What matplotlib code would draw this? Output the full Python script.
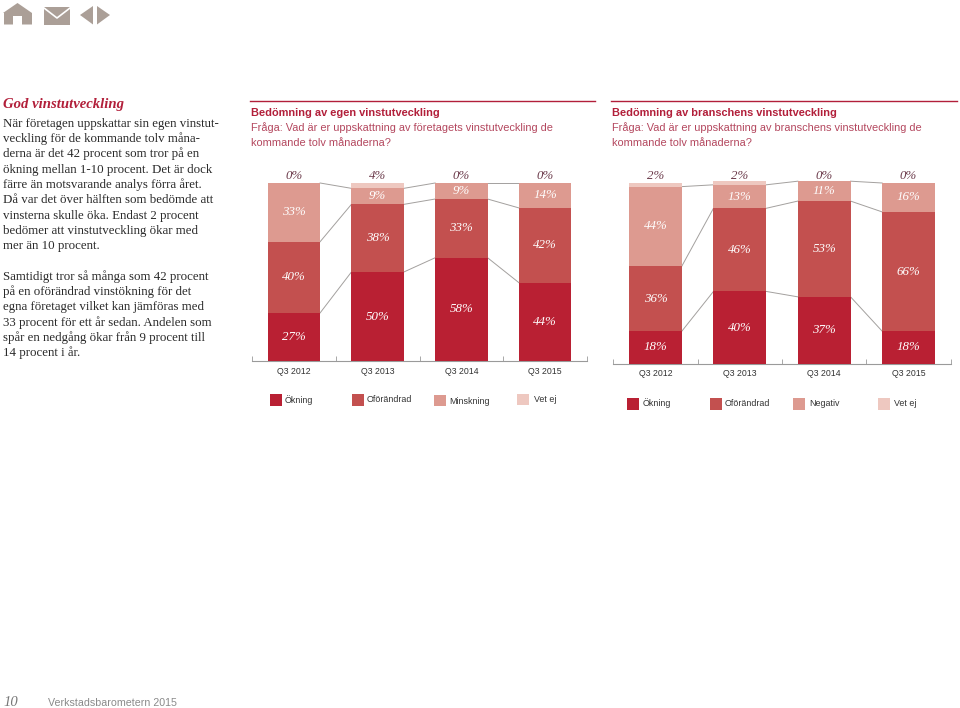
import matplotlib
matplotlib.use('Agg')
import matplotlib.pyplot as plt
from matplotlib.patches import Polygon, Rectangle
import numpy as np

W, H = 960, 708

quarters = ['Q3 2012', 'Q3 2013', 'Q3 2014', 'Q3 2015']

# vänster diagram, egen vinstutveckling
own_okning = [27, 50, 58, 44]
own_oforandrad = [40, 38, 33, 42]
own_minskning = [33, 9, 9, 14]
own_vet_ej = [0, 3, 0, 0]
own_vet_ej_labels = ['0%', '4%', '0%', '0%']

# höger diagram, branschens vinstutveckling
ind_okning = [18, 40, 37, 18]
ind_oforandrad = [36, 46, 53, 66]
ind_negativ = [44, 13, 11, 16]
ind_vet_ej = [2, 2, 0, 0]
ind_vet_ej_labels = ['2%', '2%', '0%', '0%']

own_legend = ['Ökning', 'Oförändrad', 'Minskning', 'Vet ej']
ind_legend = ['Ökning', 'Oförändrad', 'Negativ', 'Vet ej']

colors = ['#b92033', '#c3504f', '#dd9a90', '#eec8c0']
RED = '#b21f3a'
SUB = '#b4485f'
TAUPE = '#ab9f97'
SERIF = 'Liberation Serif'
SANS = 'Liberation Sans'

para1 = ['När företagen uppskattar sin egen vinstut-',
         'veckling för de kommande tolv måna-',
         'derna är det 42 procent som tror på en',
         'ökning mellan 1-10 procent. Det är dock',
         'färre än motsvarande analys förra året.',
         'Då var det över hälften som bedömde att',
         'vinsterna skulle öka. Endast 2 procent',
         'bedömer att vinstutveckling ökar med',
         'mer än 10 procent.']
para2 = ['Samtidigt tror så många som 42 procent',
         'på en oförändrad vinstökning för det',
         'egna företaget vilket kan jämföras med',
         '33 procent för ett år sedan. Andelen som',
         'spår en nedgång ökar från 9 procent till',
         '14 procent i år.']


def stacked_chart(fig, rect, series, top_labels, bar_width):
    # rect i pixlar: vänster, baslinje, höger, topp (y=100)
    left, base, right, top = rect
    ax = fig.add_axes([left / W, 1 - base / H, (right - left) / W, (base - top) / H])
    ax.patch.set_alpha(0)
    x = np.arange(len(quarters))
    bottom = np.zeros(len(quarters))
    tops = []
    for i, vals in enumerate(series):
        vals = np.array(vals)
        ax.bar(x, vals, bar_width, bottom=bottom, color=colors[i], linewidth=0, zorder=3, clip_on=False)
        if i < 3:
            for xi, v, b in zip(x, vals, bottom):
                ax.text(xi, b + v / 2, f'{v}%', ha='center', va='center', color='white',
                        family=SERIF, style='italic', fontsize=9.3, zorder=4)
        bottom = bottom + vals
        tops.append(bottom.copy())
    # förbindelselinjer mellan staplarna
    for t in tops[:3]:
        for j in range(len(x) - 1):
            ax.plot([x[j] + bar_width / 2, x[j + 1] - bar_width / 2], [t[j], t[j + 1]],
                    color='#a3a09e', lw=0.7, zorder=2, clip_on=False)
    for xi, lab in zip(x, top_labels):
        ax.text(xi, 104.1, lab, ha='center', va='center', color='#6b3a4a',
                family=SERIF, style='italic', fontsize=9.3)
    ax.set_xlim(-0.5, 3.5)
    ax.set_ylim(0, 100)
    ax.set_yticks([])
    for s in ['top', 'left', 'right']:
        ax.spines[s].set_visible(False)
    ax.spines['bottom'].set_color('#9a9a9a')
    ax.spines['bottom'].set_linewidth(0.8)
    ax.set_xticks(x)
    ax.set_xticklabels(quarters, family=SANS, fontsize=6.3, color='#333333')
    ax.tick_params(axis='x', length=0, pad=4)
    ax.set_xticks(np.arange(-0.5, 4), minor=True)
    ax.tick_params(axis='x', which='minor', direction='in', length=3.5, width=0.6, color='#9a9a9a')
    return ax


fig = plt.figure(figsize=(W / 100, H / 100), dpi=100, facecolor='white')

# överlägg i pixelkoordinater för text och ikoner
pg = fig.add_axes([0, 0, 1, 1])
pg.set_xlim(0, W)
pg.set_ylim(H, 0)
pg.axis('off')

# ikoner
pg.add_patch(Polygon([(3, 13), (17.5, 3), (32, 13), (32, 24.5), (22, 24.5), (22, 16),
                      (13, 16), (13, 24.5), (4, 24.5), (4, 13)], fc=TAUPE, ec='none'))
pg.add_patch(Rectangle((43.5, 7), 26.5, 17.5, fc=TAUPE, ec='none'))
pg.plot([44, 57, 70], [8, 18, 8], color='white', lw=1.2)
pg.add_patch(Polygon([(93, 6), (93, 24.5), (80, 15)], fc=TAUPE, ec='none'))
pg.add_patch(Polygon([(97, 6), (97, 24.5), (110, 15)], fc=TAUPE, ec='none'))

# brödtext
pg.text(3, 108, 'God vinstutveckling', family=SERIF, style='italic', weight='bold',
        fontsize=10.6, color=RED, va='baseline')
for i, line in enumerate(para1):
    pg.text(3, 126.7 + i * 15.3, line, family=SERIF, fontsize=9.3, color='#2a2a2a', va='baseline')
for i, line in enumerate(para2):
    pg.text(3, 280 + i * 15.2, line, family=SERIF, fontsize=9.3, color='#2a2a2a', va='baseline')

# rubriker över diagrammen
for x0, x1, title, sub in [
        (250, 595, 'Bedömning av egen vinstutveckling',
         'Fråga: Vad är er uppskattning av företagets vinstutveckling de'),
        (611, 957, 'Bedömning av branschens vinstutveckling',
         'Fråga: Vad är er uppskattning av branschens vinstutveckling de')]:
    pg.plot([x0, x1], [100.5, 100.5], color=RED, lw=1)
    pg.text(x0 + 1, 113, title, family=SANS, weight='bold', fontsize=7.9, color=RED, va='center')
    pg.text(x0 + 1, 128, sub, family=SANS, fontsize=7.9, color=SUB, va='center')
    pg.text(x0 + 1, 143.5, 'kommande tolv månaderna?', family=SANS, fontsize=7.9, color=SUB, va='center')

stacked_chart(fig, (252, 361, 587, 183),
              [own_okning, own_oforandrad, own_minskning, own_vet_ej], own_vet_ej_labels, 0.626)
stacked_chart(fig, (613.3, 363.7, 950.7, 183),
              [ind_okning, ind_oforandrad, ind_negativ, ind_vet_ej], ind_vet_ej_labels, 0.625)

# legender
for lab, c, bx, tx, by, ty in zip(own_legend, colors, [270, 351.5, 433.5, 517],
                                  [285, 367, 449, 534], [394, 394, 394.5, 393.5],
                                  [400, 399.5, 401.5, 399.5]):
    pg.add_patch(Rectangle((bx, by), 12, 11.5, fc=c, ec='none'))
    pg.text(tx, ty, lab, family=SANS, fontsize=6.4, color='#333333', va='center')
for lab, c, bx, tx in zip(ind_legend, colors, [627, 709.5, 793, 877.5], [643, 725, 809, 894]):
    pg.add_patch(Rectangle((bx, 398), 12, 12, fc=c, ec='none'))
    pg.text(tx, 403.5, lab, family=SANS, fontsize=6.4, color='#333333', va='center')

# sidfot
pg.text(3, 702, '10', family=SERIF, style='italic', fontsize=10.5, color='#777777', va='center')
pg.text(48, 702.5, 'Verkstadsbarometern 2015', family=SANS, fontsize=7.7, color='#8a8a8a', va='center')

fig.savefig('out.png', dpi=100)
